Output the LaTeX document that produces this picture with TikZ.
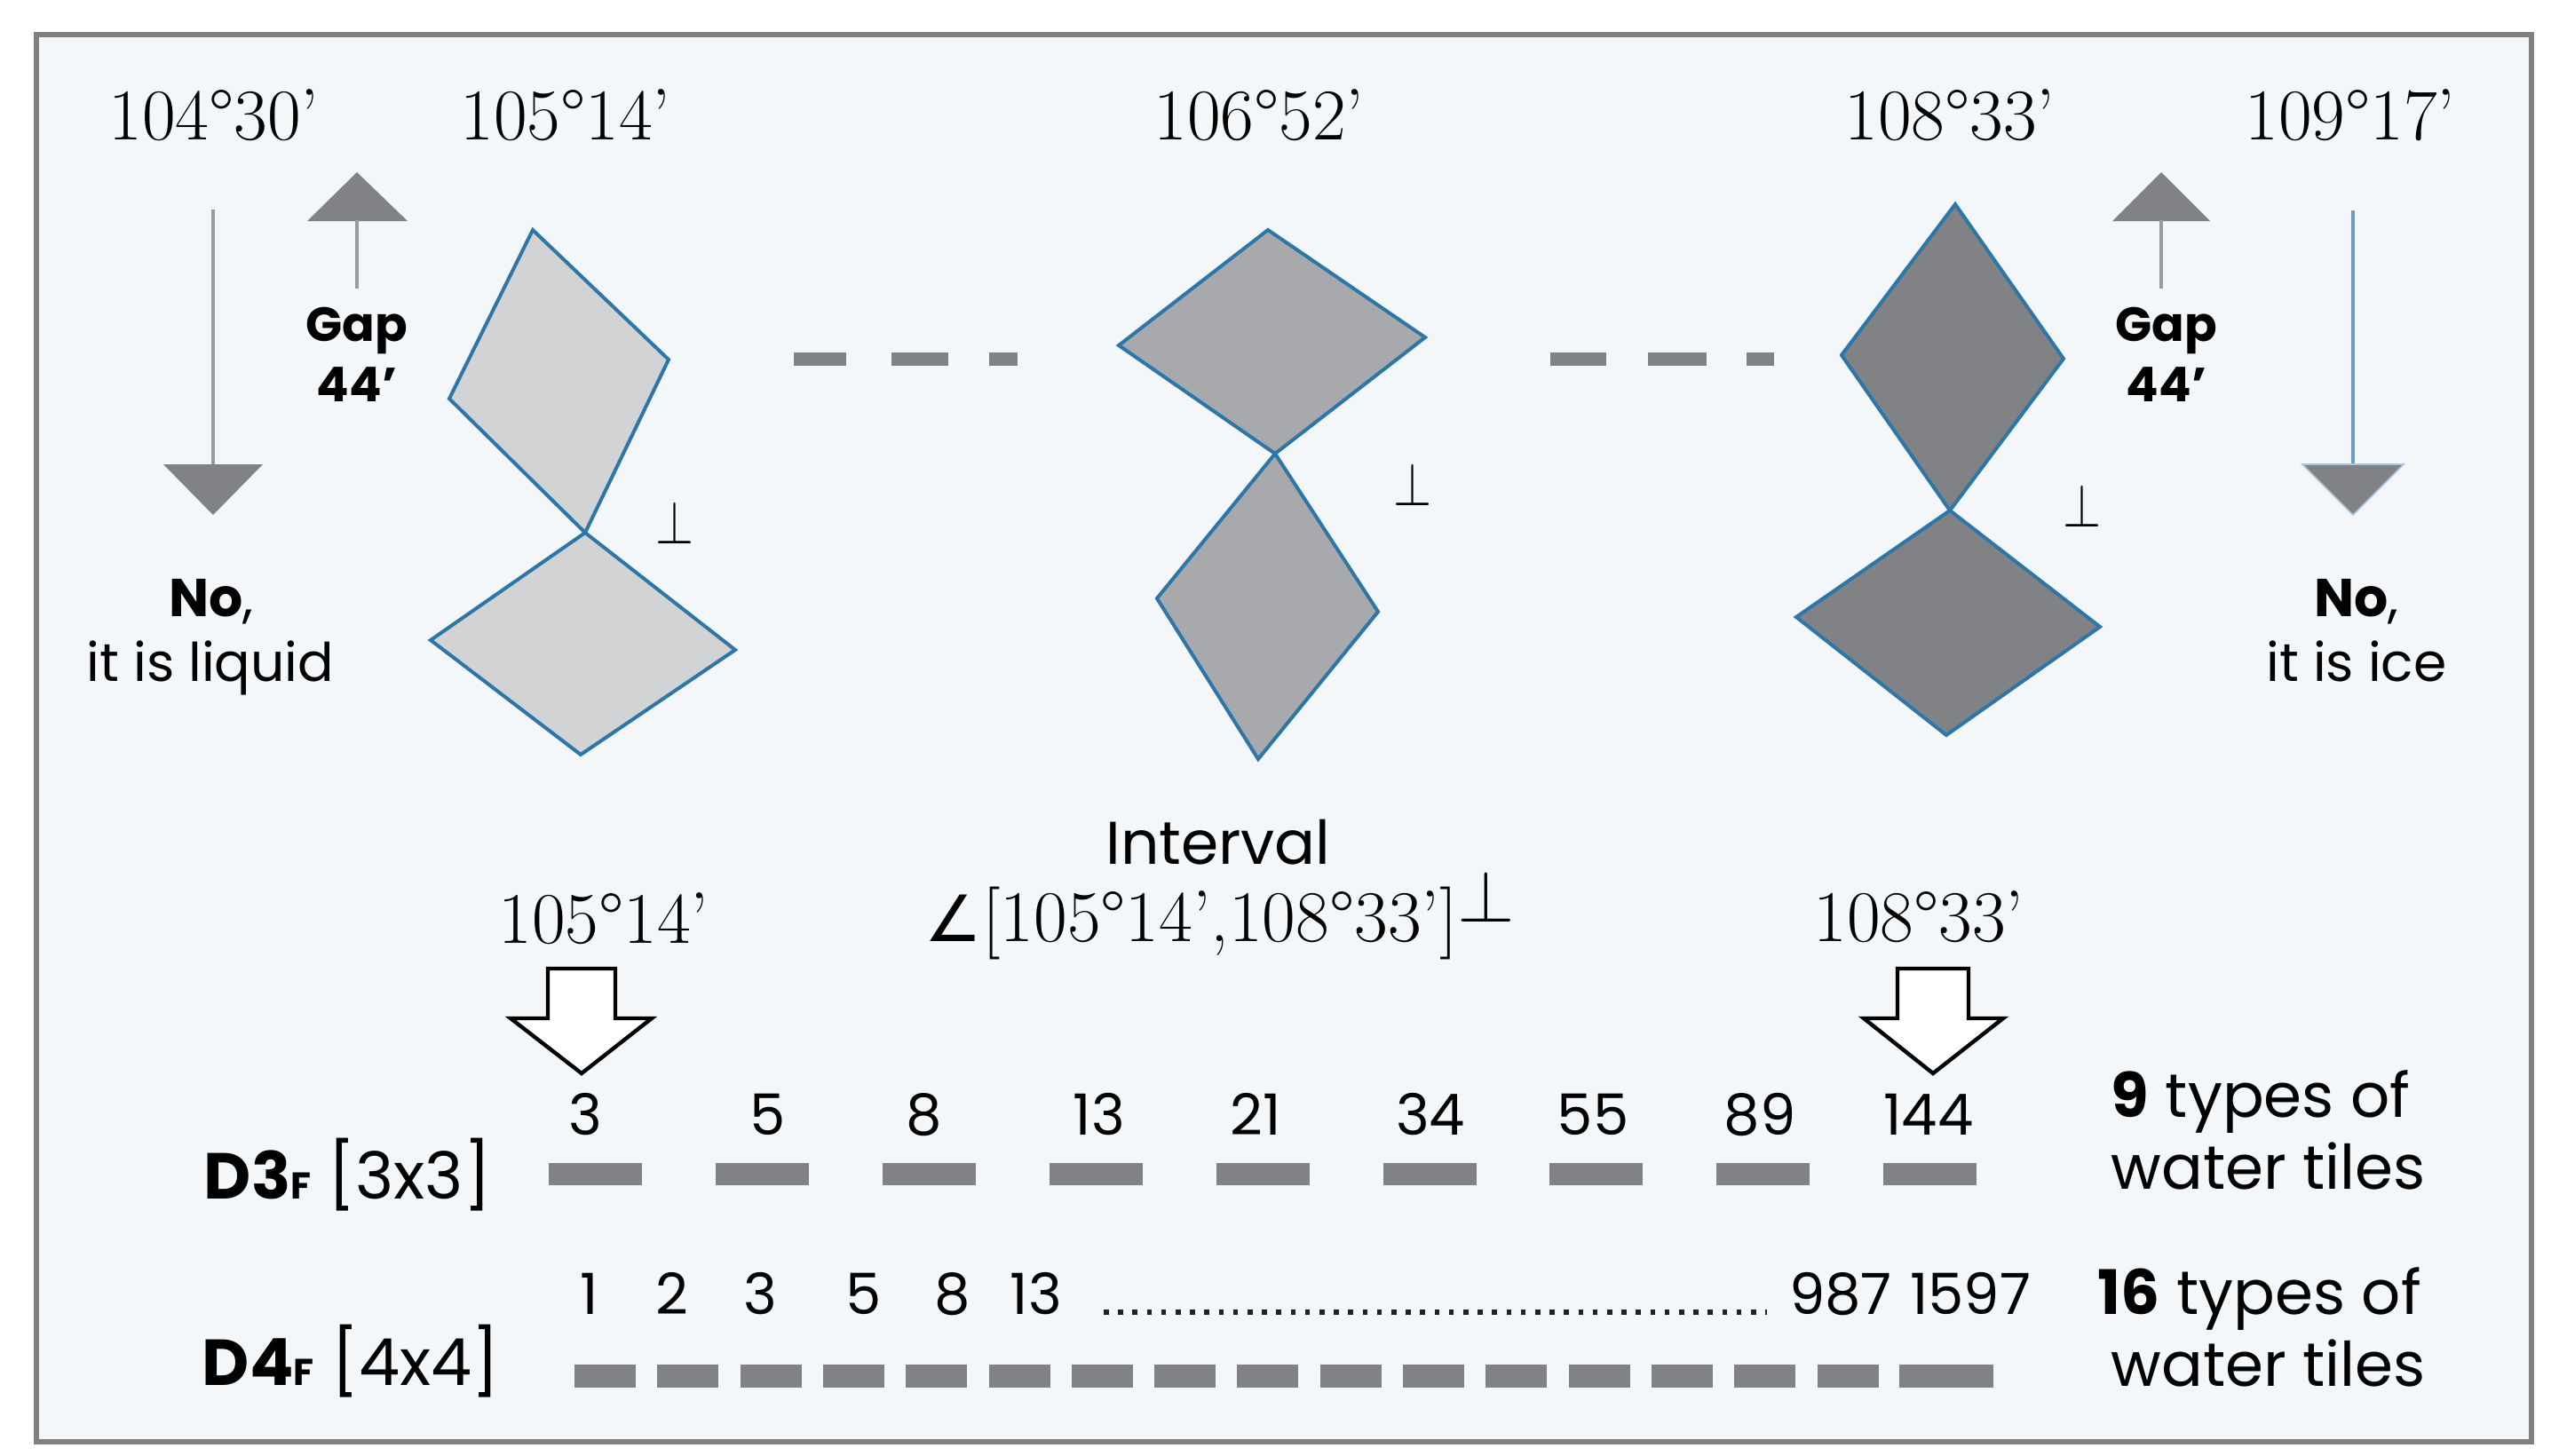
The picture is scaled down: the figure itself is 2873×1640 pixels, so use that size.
\documentclass[tikz,border=0pt]{standalone}
\usepackage{fontspec}
\newfontfamily\pop{Poppins}
\newfontfamily\djv{DejaVu Sans}
\definecolor{bgc}{HTML}{F4F7FA}
\definecolor{framec}{HTML}{808080}
\definecolor{tilec}{HTML}{808285}
\definecolor{rhl}{HTML}{D1D3D4}
\definecolor{rhm}{HTML}{A7A9AC}
\definecolor{rhd}{HTML}{808285}
\definecolor{edgec}{HTML}{2E75A8}
\definecolor{stemgray}{HTML}{9B9B9B}
\definecolor{stemblue}{HTML}{6E9CC4}
\definecolor{dotc}{HTML}{222222}
\tikzset{
  deg/.style={font=\fontsize{20.5}{20.5}\selectfont, inner sep=0pt, anchor=base},
  degs/.style={font=\fontsize{20.5}{20.5}\selectfont, inner sep=0pt, anchor=base},
  gaptxt/.style={font=\pop\bfseries\fontsize{13.5}{13.5}\selectfont, inner sep=0pt, anchor=base},
  notxt/.style={font=\pop\fontsize{15}{15}\selectfont, inner sep=0pt, anchor=base},
  num/.style={font=\pop\fontsize{16}{16}\selectfont, inner sep=0pt, anchor=base},
  side/.style={font=\pop\fontsize{17.3}{17.3}\selectfont, inner sep=0pt, anchor=base west},
  perpl/.style={font=\fontsize{19}{19}\selectfont, inner sep=0pt},
  rhomb/.style={draw=edgec, line width=1pt, line join=miter},
  headtri/.style={fill=tilec},
  stem/.style={line width=1pt},
  hollow/.style={draw=black, fill=white, line width=1.1pt, line join=miter},
}
\begin{document}
\begin{tikzpicture}[x=0.25pt,y=-0.25pt]
\useasboundingbox (0,0) rectangle (2873,1640);
\fill[white] (0,0) rectangle (2873,1640);
\draw[framec, line width=1.5pt, fill=bgc] (41,39) rectangle (2851,1624);

% top angle labels
\node[deg] (a1) at (241,157) {104\textdegree30’};
\node[deg] (a2) at (637,157) {105\textdegree14’};
\node[deg] (a3) at (1418,157) {106\textdegree52’};
\node[deg] (a4) at (2196,157) {108\textdegree33’};
\node[deg] (a5) at (2647,157) {109\textdegree17’};

% left arrows
\draw[stem, stemgray] (240,236) -- (240,524);
\fill[headtri] (184,523) -- (296,523) -- (240,580) -- cycle;
\fill[headtri] (346,249) -- (459,249) -- (402,194) -- cycle;
\draw[stem, stemgray] (402,248) -- (402,325);
\node[gaptxt] (gapL) at (402,384) {Gap};
\node[gaptxt] (gapLn) at (402,452) {44’};
\node[notxt] (noL) at (238,694) {\textbf{No},};
\node[notxt] (liqL) at (237,767) {it is liquid};

% right arrows
\fill[headtri] (2379,249) -- (2489,249) -- (2434,194) -- cycle;
\draw[stem, stemgray] (2434,248) -- (2434,325);
\node[gaptxt] (gapR) at (2440,384) {Gap};
\node[gaptxt] (gapRn) at (2440,452) {44’};
\draw[stem, stemblue] (2650,237) -- (2650,524);
\filldraw[headtri, draw=stemblue!60, line width=0.4pt] (2593,523) -- (2707,523) -- (2650,580) -- cycle;
\node[notxt] (noR) at (2654,694) {\textbf{No},};
\node[notxt] (iceR) at (2654,767) {it is ice};

% rhombi
\filldraw[rhomb, fill=rhl] (600,259) -- (753,405) -- (659,600) -- (506,449) -- cycle;
\filldraw[rhomb, fill=rhl] (659,600) -- (828,732) -- (654,850) -- (485,721) -- cycle;
\filldraw[rhomb, fill=rhm] (1428,259) -- (1605,380) -- (1436,511) -- (1260,389) -- cycle;
\filldraw[rhomb, fill=rhm] (1436,511) -- (1552,689) -- (1417,855) -- (1303,674) -- cycle;
\filldraw[rhomb, fill=rhd] (2202,230) -- (2324,404) -- (2196,575) -- (2074,400) -- cycle;
\filldraw[rhomb, fill=rhd] (2196,575) -- (2365,706) -- (2192,828) -- (2023,695) -- cycle;

\node[perpl] (p1) at (760,588) {\scalebox{0.8}[1]{$\perp$}};
\node[perpl] (p2) at (1591,545) {\scalebox{0.8}[1]{$\perp$}};
\node[perpl] (p3) at (2345,569) {\scalebox{0.8}[1]{$\perp$}};

% top dashes
\fill[tilec] (894,397) rectangle (953,412);
\fill[tilec] (1004,397) rectangle (1068,412);
\fill[tilec] (1114,397) rectangle (1146,412);
\fill[tilec] (1746,397) rectangle (1809,412);
\fill[tilec] (1856,397) rectangle (1922,412);
\fill[tilec] (1967,397) rectangle (1998,412);

% interval
\node[font=\pop\fontsize{17}{17}\selectfont, inner sep=0pt, anchor=base] (intv) at (1372,973) {Interval};
\node[degs] (intr) at (1374,1060) {{\djv\fontsize{18}{18}\selectfont ∠}[105\textdegree14’,108\textdegree33’]\raisebox{5.5pt}{$\perp$}};
\node[deg] (b1) at (680,1062) {105\textdegree14’};
\node[deg] (b2) at (2161,1060) {108\textdegree33’};

% hollow arrows
\draw[hollow] (617,1091) -- (693,1091) -- (693,1147) -- (734,1147) -- (655,1209) -- (575,1147) -- (617,1147) -- cycle;
\draw[hollow] (2137,1091) -- (2217,1091) -- (2217,1147) -- (2256,1147) -- (2177,1209) -- (2099,1147) -- (2137,1147) -- cycle;

% D3 row
\foreach \x/\t [count=\i] in {659/3,865/5,1041/8,1238/13,1414/21,1611/34,1794/55,1982/89,2172/144}
  \node[num] (n3\i) at (\x,1278) {\t};
\foreach \i in {0,...,8}
  \fill[tilec] ({618+187.9*\i},1310) rectangle +(105,25);
\node[side, font=\pop\fontsize{18.3}{18.3}\selectfont] (d3) at (229,1350) {\textbf{D3{\fontsize{10.5}{10.5}\selectfont F}} [3x3]};
\node[side] (t9) at (2377,1258) {\textbf{9} types of};
\node[side] (w9) at (2377,1339) {water tiles};

% D4 row
\foreach \x/\t [count=\i] in {664/1,757/2,856/3,973/5,1073/8,1167/13,2073/987,2219/1597}
  \node[num] (n4\i) at (\x,1480) {\t};
\coordinate (dotA) at (1243,1478);
\coordinate (dotB) at (1990,1478);
\draw[dotc, line width=1.4pt, dash pattern=on 1.4pt off 2.65pt] (dotA) -- (dotB);
\foreach \i in {0,...,15}
  \fill[tilec] ({647+93.3*\i},1537) rectangle +(69,26);
\fill[tilec] (2139,1537) rectangle (2245,1563);
\node[side, font=\pop\fontsize{18.3}{18.3}\selectfont] (d4) at (227,1560) {\textbf{D4{\fontsize{10.5}{10.5}\selectfont F}} [4x4]};
\node[side] (t16) at (2362,1480) {\textbf{16} types of};
\node[side] (w16) at (2377,1561) {water tiles};
\end{tikzpicture}
\end{document}
